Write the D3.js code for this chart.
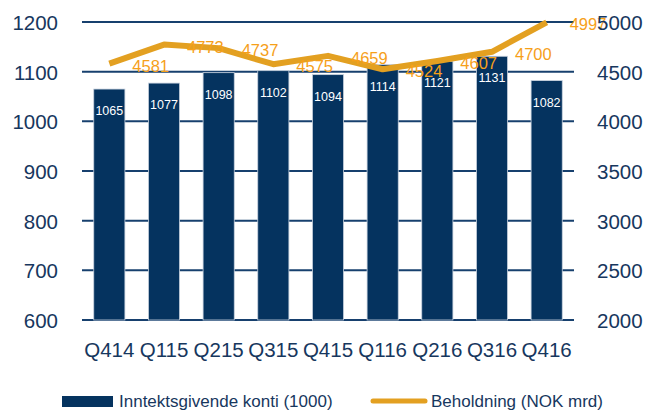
<!DOCTYPE html>
<html><head><meta charset="utf-8">
<script src="https://cdn.jsdelivr.net/npm/d3@7/dist/d3.min.js"></script>
<style>body{margin:0;background:#fff}svg{display:block}</style>
</head><body>
<script>
const categories = ["Q414","Q115","Q215","Q315","Q415","Q116","Q216","Q316","Q416"];
const accounts = [1065,1077,1098,1102,1094,1114,1121,1131,1082];
const holdings = [4581,4773,4737,4575,4659,4524,4607,4700,4997];
const leftTicks = [600,700,800,900,1000,1100,1200];
const rightTicks = [2000,2500,3000,3500,4000,4500,5000];
const seriesNames = ["Inntektsgivende konti (1000)","Beholdning (NOK mrd)"];

const W=646,H=410;
const navy="#05335f", grid="#17406e", txt="#17375e", orange="#e3a021", orangeTxt="#f6a01a";
const font="'Liberation Sans', Arial, sans-serif";
const svg=d3.select("body").append("svg").attr("width",W).attr("height",H);

const x=d3.scaleBand().domain(categories).range([82,574]).paddingInner(0.43).paddingOuter(0.215);
const yL=d3.scaleLinear().domain([600,1200]).range([320,22]);
const yR=d3.scaleLinear().domain([2000,5000]).range([320,22]);

// gridlines
svg.append("g").selectAll("line").data(leftTicks).join("line")
  .attr("x1",82).attr("x2",574).attr("y1",d=>yL(d)).attr("y2",d=>yL(d))
  .attr("stroke",grid).attr("stroke-width",2);

// bars
svg.append("g").selectAll("rect").data(accounts).join("rect")
  .attr("x",(d,i)=>x(categories[i])).attr("width",x.bandwidth())
  .attr("y",d=>yL(d)).attr("height",d=>yL(600)-yL(d))
  .attr("fill",navy).attr("stroke","#c8d2df").attr("stroke-width",0.8);

// bar labels
svg.append("g").selectAll("text").data(accounts).join("text")
  .attr("x",(d,i)=>x(categories[i])+x.bandwidth()/2).attr("y",d=>yL(d)+26)
  .attr("text-anchor","middle").attr("fill","#fff").attr("font-family",font).attr("font-size",12.5)
  .text(d=>d);

// line
const cx=i=>x(categories[i])+x.bandwidth()/2;
svg.append("path").datum(holdings)
  .attr("d",d3.line().x((d,i)=>cx(i)).y(d=>yR(d)))
  .attr("fill","none").attr("stroke",orange).attr("stroke-width",6).attr("stroke-linejoin","round");

// line labels
svg.append("g").selectAll("text").data(holdings).join("text")
  .attr("x",(d,i)=>cx(i)+23).attr("y",d=>yR(d)+8)
  .attr("fill",orangeTxt).attr("font-family",font).attr("font-size",16.5)
  .text(d=>d);

// left axis
const axL=svg.append("g").attr("transform","translate(58,0)")
  .call(d3.axisLeft(yL).tickValues(leftTicks).tickFormat(d3.format("d")).tickSize(0).tickPadding(0));
axL.select(".domain").remove();
axL.selectAll("text").attr("fill",txt).attr("font-family",font).attr("font-size",20.5).attr("dy","0.36em");

// right axis
const axR=svg.append("g").attr("transform","translate(597,0)")
  .call(d3.axisRight(yR).tickValues(rightTicks).tickFormat(d3.format("d")).tickSize(0).tickPadding(0));
axR.select(".domain").remove();
axR.selectAll("text").attr("fill",txt).attr("font-family",font).attr("font-size",20.5).attr("dy","0.36em");

// x axis
const axB=svg.append("g").attr("transform","translate(0,357)")
  .call(d3.axisBottom(x).tickSize(0).tickPadding(0));
axB.select(".domain").remove();
axB.selectAll("text").attr("fill",txt).attr("font-family",font).attr("font-size",20.5).attr("dy",0);

// legend
const lg=svg.append("g");
lg.append("rect").attr("x",62).attr("y",396).attr("width",51).attr("height",11).attr("fill",navy);
lg.append("text").attr("x",119).attr("y",407).attr("fill",txt).attr("font-family",font).attr("font-size",17).text(seriesNames[0]);
lg.append("line").attr("x1",373).attr("x2",425).attr("y1",401).attr("y2",401)
  .attr("stroke",orange).attr("stroke-width",5).attr("stroke-linecap","round");
lg.append("text").attr("x",431).attr("y",407).attr("fill",txt).attr("font-family",font).attr("font-size",17).text(seriesNames[1]);
</script>
</body></html>
